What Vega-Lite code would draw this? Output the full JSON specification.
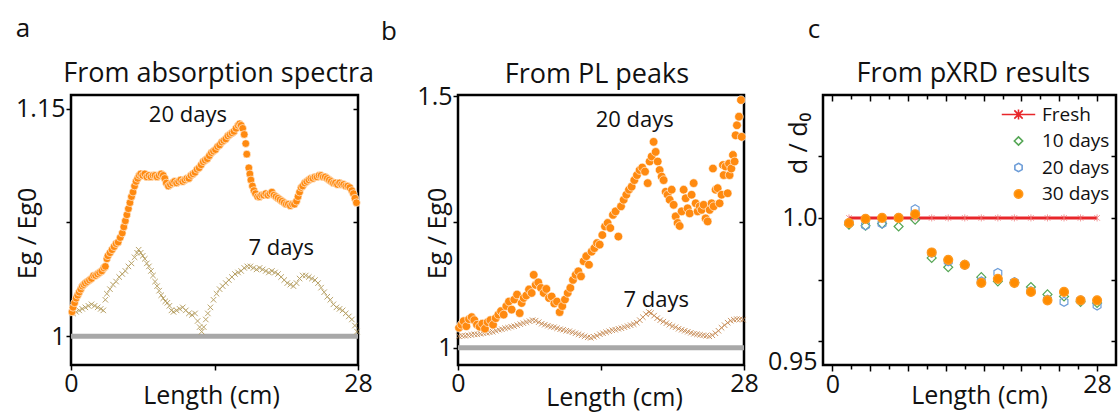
{
  "$schema": "https://vega.github.io/schema/vega-lite/v6.json",
  "padding": {"left": 13, "top": 15, "right": 5, "bottom": 0},
  "background": "white",
  "spacing": 100,
  "bounds": "flush",
  "datasets": {
    "base": [{"x": 0, "y": 1}, {"x": 28, "y": 1}],
    "letters": [
      {"panel": "a", "x": -4.68, "y": 1.2022, "t": "a"},
      {"panel": "b", "x": -6.76, "y": 1.628, "t": "b"},
      {"panel": "c", "x": -1.95, "y": 1.0761, "t": "c"}
    ],
    "heads": [
      {"panel": "a", "x": 14.4, "y": 1.1678, "t": "From absorption spectra"},
      {"panel": "b", "x": 13.6, "y": 1.5256, "t": "From PL peaks"},
      {"panel": "c", "x": 14.9, "y": 1.0551, "t": "From pXRD results"}
    ],
    "notes": [
      {"panel": "a", "x": 11.4, "y": 1.146, "t": "20 days"},
      {"panel": "a", "x": 20.5, "y": 1.058, "t": "7 days"},
      {"panel": "b", "x": 17.3, "y": 1.452, "t": "20 days"},
      {"panel": "b", "x": 19.4, "y": 1.096, "t": "7 days"}
    ],
    "a20": [
      {"x":0.1,"y":1.016},{"x":0.2,"y":1.019},{"x":0.35,"y":1.022},{"x":0.5,"y":1.025},{"x":0.65,"y":1.027},{"x":0.8,"y":1.029},{"x":0.95,"y":1.031},{"x":1.1,"y":1.033},{"x":1.25,"y":1.034},{"x":1.4,"y":1.035},{"x":1.6,"y":1.036},{"x":1.8,"y":1.037},{"x":2.0,"y":1.038},{"x":2.2,"y":1.04},{"x":2.4,"y":1.04},{"x":2.6,"y":1.041},{"x":2.8,"y":1.042},{"x":3.0,"y":1.043},{"x":3.2,"y":1.045},{"x":3.35,"y":1.046},{"x":3.5,"y":1.051},{"x":3.6,"y":1.053},{"x":3.8,"y":1.055},{"x":4.0,"y":1.057},{"x":4.2,"y":1.059},{"x":4.4,"y":1.061},{"x":4.6,"y":1.062},{"x":4.8,"y":1.065},{"x":5.0,"y":1.068},{"x":5.15,"y":1.072},{"x":5.3,"y":1.076},{"x":5.45,"y":1.08},{"x":5.6,"y":1.084},{"x":5.75,"y":1.088},{"x":5.9,"y":1.092},{"x":6.05,"y":1.095},{"x":6.2,"y":1.099},{"x":6.35,"y":1.102},{"x":6.5,"y":1.104},{"x":6.65,"y":1.106},{"x":6.8,"y":1.107},{"x":7.0,"y":1.106},{"x":7.2,"y":1.107},{"x":7.4,"y":1.105},{"x":7.6,"y":1.106},{"x":7.8,"y":1.105},{"x":8.0,"y":1.106},{"x":8.2,"y":1.106},{"x":8.4,"y":1.105},{"x":8.6,"y":1.106},{"x":8.8,"y":1.107},{"x":9.0,"y":1.106},{"x":9.15,"y":1.104},{"x":9.3,"y":1.101},{"x":9.5,"y":1.099},{"x":9.7,"y":1.1},{"x":9.9,"y":1.101},{"x":10.1,"y":1.102},{"x":10.3,"y":1.101},{"x":10.5,"y":1.102},{"x":10.7,"y":1.103},{"x":10.9,"y":1.102},{"x":11.1,"y":1.103},{"x":11.3,"y":1.104},{"x":11.5,"y":1.104},{"x":11.7,"y":1.106},{"x":11.9,"y":1.107},{"x":12.1,"y":1.108},{"x":12.3,"y":1.11},{"x":12.5,"y":1.111},{"x":12.7,"y":1.113},{"x":12.9,"y":1.115},{"x":13.1,"y":1.116},{"x":13.3,"y":1.117},{"x":13.5,"y":1.119},{"x":13.7,"y":1.121},{"x":13.9,"y":1.122},{"x":14.1,"y":1.123},{"x":14.3,"y":1.125},{"x":14.5,"y":1.126},{"x":14.7,"y":1.128},{"x":14.9,"y":1.129},{"x":15.1,"y":1.13},{"x":15.3,"y":1.132},{"x":15.5,"y":1.133},{"x":15.7,"y":1.134},{"x":15.9,"y":1.135},{"x":16.1,"y":1.137},{"x":16.3,"y":1.139},{"x":16.45,"y":1.14},{"x":16.6,"y":1.139},{"x":16.75,"y":1.137},{"x":16.9,"y":1.133},{"x":17.05,"y":1.127},{"x":17.15,"y":1.12},{"x":17.35,"y":1.111},{"x":17.45,"y":1.107},{"x":17.55,"y":1.103},{"x":17.7,"y":1.099},{"x":17.85,"y":1.096},{"x":18.0,"y":1.094},{"x":18.2,"y":1.092},{"x":18.4,"y":1.092},{"x":18.6,"y":1.093},{"x":18.8,"y":1.093},{"x":19.0,"y":1.094},{"x":19.2,"y":1.093},{"x":19.4,"y":1.094},{"x":19.6,"y":1.095},{"x":19.8,"y":1.093},{"x":20.0,"y":1.092},{"x":20.2,"y":1.091},{"x":20.4,"y":1.09},{"x":20.6,"y":1.089},{"x":20.8,"y":1.088},{"x":21.0,"y":1.087},{"x":21.2,"y":1.087},{"x":21.4,"y":1.086},{"x":21.6,"y":1.087},{"x":21.8,"y":1.087},{"x":22.0,"y":1.089},{"x":22.15,"y":1.092},{"x":22.3,"y":1.095},{"x":22.45,"y":1.098},{"x":22.6,"y":1.099},{"x":22.8,"y":1.101},{"x":23.0,"y":1.102},{"x":23.2,"y":1.103},{"x":23.4,"y":1.104},{"x":23.6,"y":1.104},{"x":23.8,"y":1.105},{"x":24.0,"y":1.105},{"x":24.2,"y":1.106},{"x":24.4,"y":1.106},{"x":24.6,"y":1.105},{"x":24.8,"y":1.105},{"x":25.0,"y":1.104},{"x":25.2,"y":1.103},{"x":25.4,"y":1.102},{"x":25.6,"y":1.101},{"x":25.8,"y":1.101},{"x":26.0,"y":1.1},{"x":26.2,"y":1.101},{"x":26.4,"y":1.1},{"x":26.6,"y":1.1},{"x":26.8,"y":1.099},{"x":27.0,"y":1.099},{"x":27.2,"y":1.098},{"x":27.4,"y":1.096},{"x":27.55,"y":1.094},{"x":27.7,"y":1.091},{"x":27.85,"y":1.088}
    ],
    "a7": [
      {"x":0.2,"y":1.015},{"x":0.5,"y":1.016},{"x":0.8,"y":1.017},{"x":1.1,"y":1.018},{"x":1.4,"y":1.019},{"x":1.7,"y":1.02},{"x":2.0,"y":1.021},{"x":2.3,"y":1.02},{"x":2.6,"y":1.019},{"x":2.9,"y":1.018},{"x":3.15,"y":1.017},{"x":3.35,"y":1.024},{"x":3.5,"y":1.028},{"x":3.8,"y":1.031},{"x":4.1,"y":1.034},{"x":4.4,"y":1.036},{"x":4.7,"y":1.039},{"x":5.0,"y":1.041},{"x":5.3,"y":1.043},{"x":5.6,"y":1.046},{"x":5.9,"y":1.048},{"x":6.2,"y":1.052},{"x":6.45,"y":1.055},{"x":6.6,"y":1.057},{"x":6.8,"y":1.055},{"x":7.0,"y":1.053},{"x":7.2,"y":1.051},{"x":7.4,"y":1.048},{"x":7.6,"y":1.046},{"x":7.8,"y":1.043},{"x":8.0,"y":1.04},{"x":8.2,"y":1.036},{"x":8.4,"y":1.033},{"x":8.6,"y":1.03},{"x":8.8,"y":1.027},{"x":9.0,"y":1.025},{"x":9.2,"y":1.023},{"x":9.4,"y":1.022},{"x":9.6,"y":1.02},{"x":9.8,"y":1.017},{"x":10.0,"y":1.016},{"x":10.3,"y":1.017},{"x":10.6,"y":1.018},{"x":10.9,"y":1.019},{"x":11.2,"y":1.017},{"x":11.5,"y":1.015},{"x":11.8,"y":1.014},{"x":12.1,"y":1.015},{"x":12.35,"y":1.01},{"x":12.55,"y":1.006},{"x":12.75,"y":1.003},{"x":12.95,"y":1.006},{"x":13.15,"y":1.011},{"x":13.35,"y":1.015},{"x":13.6,"y":1.019},{"x":13.9,"y":1.024},{"x":14.2,"y":1.028},{"x":14.5,"y":1.031},{"x":14.8,"y":1.033},{"x":15.1,"y":1.035},{"x":15.4,"y":1.037},{"x":15.7,"y":1.039},{"x":16.0,"y":1.041},{"x":16.3,"y":1.042},{"x":16.6,"y":1.043},{"x":16.9,"y":1.045},{"x":17.2,"y":1.046},{"x":17.5,"y":1.046},{"x":17.8,"y":1.045},{"x":18.1,"y":1.044},{"x":18.4,"y":1.045},{"x":18.7,"y":1.044},{"x":19.0,"y":1.043},{"x":19.3,"y":1.042},{"x":19.6,"y":1.043},{"x":19.9,"y":1.042},{"x":20.2,"y":1.041},{"x":20.5,"y":1.039},{"x":20.8,"y":1.037},{"x":21.1,"y":1.035},{"x":21.4,"y":1.034},{"x":21.7,"y":1.033},{"x":22.0,"y":1.035},{"x":22.3,"y":1.038},{"x":22.6,"y":1.04},{"x":22.9,"y":1.04},{"x":23.2,"y":1.039},{"x":23.5,"y":1.038},{"x":23.8,"y":1.037},{"x":24.1,"y":1.035},{"x":24.4,"y":1.032},{"x":24.7,"y":1.029},{"x":25.0,"y":1.026},{"x":25.3,"y":1.024},{"x":25.6,"y":1.021},{"x":25.9,"y":1.019},{"x":26.2,"y":1.018},{"x":26.5,"y":1.017},{"x":26.8,"y":1.015},{"x":27.1,"y":1.013},{"x":27.4,"y":1.011},{"x":27.7,"y":1.007},{"x":27.9,"y":1.003}
    ],
    "b20": [
      {"x":0.1,"y":1.04},{"x":0.33,"y":1.046},{"x":0.55,"y":1.053},{"x":0.82,"y":1.043},{"x":1.08,"y":1.057},{"x":1.34,"y":1.061},{"x":1.6,"y":1.055},{"x":1.86,"y":1.046},{"x":2.12,"y":1.042},{"x":2.38,"y":1.048},{"x":2.64,"y":1.038},{"x":2.9,"y":1.051},{"x":3.17,"y":1.055},{"x":3.43,"y":1.046},{"x":3.69,"y":1.059},{"x":3.95,"y":1.066},{"x":4.21,"y":1.073},{"x":4.47,"y":1.066},{"x":4.73,"y":1.083},{"x":4.99,"y":1.092},{"x":5.25,"y":1.076},{"x":5.51,"y":1.096},{"x":5.78,"y":1.106},{"x":6.04,"y":1.069},{"x":6.23,"y":1.089},{"x":6.43,"y":1.099},{"x":6.69,"y":1.104},{"x":6.95,"y":1.116},{"x":7.21,"y":1.109},{"x":7.41,"y":1.145},{"x":7.6,"y":1.125},{"x":7.86,"y":1.13},{"x":8.12,"y":1.119},{"x":8.39,"y":1.109},{"x":8.65,"y":1.117},{"x":8.91,"y":1.099},{"x":9.17,"y":1.102},{"x":9.43,"y":1.088},{"x":9.69,"y":1.092},{"x":9.95,"y":1.071},{"x":10.21,"y":1.083},{"x":10.47,"y":1.096},{"x":10.74,"y":1.109},{"x":11.0,"y":1.119},{"x":11.26,"y":1.135},{"x":11.52,"y":1.145},{"x":11.78,"y":1.152},{"x":12.04,"y":1.142},{"x":12.3,"y":1.172},{"x":12.56,"y":1.182},{"x":12.82,"y":1.165},{"x":13.08,"y":1.191},{"x":13.35,"y":1.198},{"x":13.61,"y":1.208},{"x":13.87,"y":1.205},{"x":14.13,"y":1.224},{"x":14.39,"y":1.241},{"x":14.65,"y":1.248},{"x":14.91,"y":1.238},{"x":15.17,"y":1.264},{"x":15.43,"y":1.271},{"x":15.7,"y":1.221},{"x":15.96,"y":1.281},{"x":16.22,"y":1.294},{"x":16.48,"y":1.304},{"x":16.74,"y":1.314},{"x":17.0,"y":1.32},{"x":17.26,"y":1.333},{"x":17.52,"y":1.343},{"x":17.78,"y":1.353},{"x":18.04,"y":1.358},{"x":18.31,"y":1.35},{"x":18.57,"y":1.327},{"x":18.76,"y":1.37},{"x":18.96,"y":1.38},{"x":19.15,"y":1.409},{"x":19.35,"y":1.389},{"x":19.55,"y":1.37},{"x":19.74,"y":1.353},{"x":19.94,"y":1.34},{"x":20.13,"y":1.333},{"x":20.33,"y":1.31},{"x":20.52,"y":1.304},{"x":20.72,"y":1.294},{"x":20.92,"y":1.314},{"x":21.11,"y":1.284},{"x":21.31,"y":1.261},{"x":21.5,"y":1.248},{"x":21.7,"y":1.242},{"x":21.9,"y":1.271},{"x":22.09,"y":1.314},{"x":22.29,"y":1.297},{"x":22.48,"y":1.277},{"x":22.68,"y":1.267},{"x":22.87,"y":1.304},{"x":23.07,"y":1.327},{"x":23.27,"y":1.287},{"x":23.46,"y":1.271},{"x":23.66,"y":1.281},{"x":23.85,"y":1.274},{"x":24.05,"y":1.284},{"x":24.24,"y":1.257},{"x":24.44,"y":1.251},{"x":24.64,"y":1.274},{"x":24.83,"y":1.287},{"x":24.96,"y":1.356},{"x":25.03,"y":1.281},{"x":25.22,"y":1.314},{"x":25.42,"y":1.317},{"x":25.61,"y":1.287},{"x":25.81,"y":1.304},{"x":25.94,"y":1.363},{"x":26.01,"y":1.343},{"x":26.2,"y":1.36},{"x":26.4,"y":1.307},{"x":26.53,"y":1.366},{"x":26.59,"y":1.343},{"x":26.76,"y":1.356},{"x":26.92,"y":1.383},{"x":27.08,"y":1.37},{"x":27.18,"y":1.422},{"x":27.31,"y":1.442},{"x":27.51,"y":1.459},{"x":27.7,"y":1.492},{"x":27.77,"y":1.419}
    ],
    "b7": [
      {"x":0.1,"y":1.023},{"x":0.4,"y":1.024},{"x":0.7,"y":1.024},{"x":1.0,"y":1.025},{"x":1.3,"y":1.026},{"x":1.6,"y":1.027},{"x":1.9,"y":1.027},{"x":2.2,"y":1.028},{"x":2.5,"y":1.029},{"x":2.8,"y":1.03},{"x":3.1,"y":1.031},{"x":3.4,"y":1.032},{"x":3.7,"y":1.034},{"x":4.0,"y":1.036},{"x":4.3,"y":1.037},{"x":4.6,"y":1.039},{"x":4.9,"y":1.04},{"x":5.2,"y":1.042},{"x":5.5,"y":1.043},{"x":5.8,"y":1.045},{"x":6.1,"y":1.047},{"x":6.4,"y":1.049},{"x":6.7,"y":1.051},{"x":7.0,"y":1.053},{"x":7.3,"y":1.055},{"x":7.6,"y":1.054},{"x":7.9,"y":1.051},{"x":8.2,"y":1.048},{"x":8.5,"y":1.046},{"x":8.8,"y":1.044},{"x":9.1,"y":1.042},{"x":9.4,"y":1.041},{"x":9.7,"y":1.039},{"x":10.0,"y":1.037},{"x":10.3,"y":1.036},{"x":10.6,"y":1.034},{"x":10.9,"y":1.033},{"x":11.2,"y":1.031},{"x":11.5,"y":1.029},{"x":11.8,"y":1.027},{"x":12.1,"y":1.025},{"x":12.4,"y":1.023},{"x":12.7,"y":1.021},{"x":13.0,"y":1.02},{"x":13.3,"y":1.022},{"x":13.6,"y":1.024},{"x":13.9,"y":1.027},{"x":14.2,"y":1.029},{"x":14.5,"y":1.031},{"x":14.8,"y":1.033},{"x":15.1,"y":1.035},{"x":15.4,"y":1.036},{"x":15.7,"y":1.038},{"x":16.0,"y":1.039},{"x":16.3,"y":1.041},{"x":16.6,"y":1.043},{"x":16.9,"y":1.045},{"x":17.2,"y":1.047},{"x":17.5,"y":1.05},{"x":17.8,"y":1.055},{"x":18.1,"y":1.061},{"x":18.4,"y":1.067},{"x":18.7,"y":1.071},{"x":18.9,"y":1.069},{"x":19.2,"y":1.064},{"x":19.5,"y":1.059},{"x":19.8,"y":1.055},{"x":20.1,"y":1.052},{"x":20.4,"y":1.049},{"x":20.7,"y":1.046},{"x":21.0,"y":1.043},{"x":21.3,"y":1.041},{"x":21.6,"y":1.038},{"x":21.9,"y":1.036},{"x":22.2,"y":1.034},{"x":22.5,"y":1.032},{"x":22.8,"y":1.03},{"x":23.1,"y":1.028},{"x":23.4,"y":1.027},{"x":23.7,"y":1.026},{"x":24.0,"y":1.025},{"x":24.3,"y":1.024},{"x":24.6,"y":1.023},{"x":24.9,"y":1.025},{"x":25.2,"y":1.029},{"x":25.5,"y":1.034},{"x":25.8,"y":1.04},{"x":26.1,"y":1.045},{"x":26.4,"y":1.05},{"x":26.7,"y":1.054},{"x":27.0,"y":1.056},{"x":27.3,"y":1.057},{"x":27.6,"y":1.057},{"x":27.9,"y":1.056}
    ],
    "fresh": [
      {"x":1.75,"y":1.0},{"x":3.5,"y":1.0},{"x":5.25,"y":1.0},{"x":7.0,"y":1.0},{"x":8.75,"y":1.0},{"x":10.5,"y":1.0},{"x":12.25,"y":1.0},{"x":14.0,"y":1.0},{"x":15.75,"y":1.0},{"x":17.5,"y":1.0},{"x":19.25,"y":1.0},{"x":21.0,"y":1.0},{"x":22.75,"y":1.0},{"x":24.5,"y":1.0},{"x":26.25,"y":1.0},{"x":28.0,"y":1.0}
    ],
    "aged": [
      {"series":"10 days","x":1.75,"y":0.9973},{"series":"10 days","x":3.5,"y":0.9968},{"series":"10 days","x":5.25,"y":0.9977},{"series":"10 days","x":7.0,"y":0.9965},{"series":"10 days","x":8.75,"y":0.9993},{"series":"10 days","x":10.5,"y":0.9838},{"series":"10 days","x":12.25,"y":0.98},{"series":"10 days","x":14.0,"y":0.981},{"series":"10 days","x":15.75,"y":0.976},{"series":"10 days","x":17.5,"y":0.9743},{"series":"10 days","x":19.25,"y":0.9737},{"series":"10 days","x":21.0,"y":0.972},{"series":"10 days","x":22.75,"y":0.969},{"series":"10 days","x":24.5,"y":0.9682},{"series":"10 days","x":26.25,"y":0.966},{"series":"10 days","x":28.0,"y":0.9655},
      {"series":"20 days","x":1.75,"y":0.998},{"series":"20 days","x":3.5,"y":0.997},{"series":"20 days","x":5.25,"y":0.9977},{"series":"20 days","x":7.0,"y":1.0},{"series":"20 days","x":8.75,"y":1.0035},{"series":"20 days","x":10.5,"y":0.9858},{"series":"20 days","x":12.25,"y":0.9824},{"series":"20 days","x":14.0,"y":0.981},{"series":"20 days","x":15.75,"y":0.9743},{"series":"20 days","x":17.5,"y":0.9777},{"series":"20 days","x":19.25,"y":0.974},{"series":"20 days","x":21.0,"y":0.9703},{"series":"20 days","x":22.75,"y":0.9669},{"series":"20 days","x":24.5,"y":0.966},{"series":"20 days","x":26.25,"y":0.9666},{"series":"20 days","x":28.0,"y":0.9645},
      {"series":"30 days","x":1.75,"y":0.9979},{"series":"30 days","x":3.5,"y":0.9996},{"series":"30 days","x":5.25,"y":1.0},{"series":"30 days","x":7.0,"y":1.0},{"series":"30 days","x":8.75,"y":1.0015},{"series":"30 days","x":10.5,"y":0.986},{"series":"30 days","x":12.25,"y":0.983},{"series":"30 days","x":14.0,"y":0.981},{"series":"30 days","x":15.75,"y":0.9737},{"series":"30 days","x":17.5,"y":0.9753},{"series":"30 days","x":19.25,"y":0.9737},{"series":"30 days","x":21.0,"y":0.97},{"series":"30 days","x":22.75,"y":0.9666},{"series":"30 days","x":24.5,"y":0.97},{"series":"30 days","x":26.25,"y":0.9666},{"series":"30 days","x":28.0,"y":0.9666}
    ]
  },
  "hconcat": [
    {
      "width": 287, "height": 270,
      "resolve": {"axis": {"x": "independent", "y": "independent"}},
      "layer": [
        {
          "data": {"name": "base"},
          "mark": {"type": "line", "color": "#a8a8a8", "strokeWidth": 5},
          "encoding": {
            "x": {"field": "x", "type": "quantitative", "scale": {"domain": [0, 28], "nice": false, "zero": false},
                  "axis": {"values": [0, 14, 28], "labelExpr": "datum.value == 14 ? '' : datum.label", "title": "Length (cm)", "titleX": 140, "titleY": 18, "titleBaseline": "top"}},
            "y": {"field": "y", "type": "quantitative", "scale": {"domain": [0.981, 1.159], "nice": false, "zero": false},
                  "axis": {"values": [1, 1.075, 1.15], "labelExpr": "datum.value == 1 ? '1' : (datum.value > 1.14 ? '1.15' : '')", "title": "Eg / Eg0", "titleX": -31, "titleY": 138}}
          }
        },
        {
          "data": {"name": "a7"},
          "mark": {"type": "point", "shape": "M-1,-1L1,1M-1,1L1,-1", "size": 30, "filled": false, "stroke": "#b39b5b", "strokeWidth": 1, "opacity": 0.9},
          "encoding": {
            "x": {"field": "x", "type": "quantitative", "axis": null},
            "y": {"field": "y", "type": "quantitative", "axis": {"orient": "right", "labels": false, "title": null, "values": [1, 1.075, 1.15], "tickSize": -5}}
          }
        },
        {
          "data": {"name": "a20"},
          "mark": {"type": "point", "shape": "circle", "size": 60, "filled": true, "fill": "#ff8a10", "stroke": "#ffffff", "strokeWidth": 0.6, "opacity": 1},
          "encoding": {
            "x": {"field": "x", "type": "quantitative", "axis": null},
            "y": {"field": "y", "type": "quantitative", "axis": null}
          }
        },
        {
          "data": {"name": "notes"},
          "transform": [{"filter": "datum.panel == 'a'"}],
          "mark": {"type": "text", "fontSize": 22, "color": "#111"},
          "encoding": {
            "x": {"field": "x", "type": "quantitative", "axis": null},
            "y": {"field": "y", "type": "quantitative", "axis": null},
            "text": {"field": "t"}
          }
        },
        {
          "data": {"name": "heads"},
          "transform": [{"filter": "datum.panel == 'a'"}],
          "mark": {"type": "text", "fontSize": 27, "baseline": "alphabetic", "color": "#111"},
          "encoding": {
            "x": {"field": "x", "type": "quantitative", "axis": null},
            "y": {"field": "y", "type": "quantitative", "axis": null},
            "text": {"field": "t"}
          }
        },
        {
          "data": {"name": "letters"},
          "transform": [{"filter": "datum.panel == 'a'"}],
          "mark": {"type": "text", "fontSize": 26, "color": "#111"},
          "encoding": {
            "x": {"field": "x", "type": "quantitative", "axis": null},
            "y": {"field": "y", "type": "quantitative", "axis": null},
            "text": {"field": "t"}
          }
        }
      ]
    },
    {
      "spacing": 79,
      "bounds": "flush",
      "hconcat": [
        {
          "width": 286, "height": 270,
          "resolve": {"axis": {"x": "independent", "y": "independent"}},
          "layer": [
            {
              "data": {"name": "base"},
              "mark": {"type": "line", "color": "#a8a8a8", "strokeWidth": 5},
              "encoding": {
                "x": {"field": "x", "type": "quantitative", "scale": {"domain": [0, 28], "nice": false, "zero": false},
                      "axis": {"values": [0, 14, 28], "labelExpr": "datum.value == 14 ? '' : datum.label", "title": "Length (cm)", "titleX": 156, "titleY": 20, "titleBaseline": "top"}},
                "y": {"field": "y", "type": "quantitative", "scale": {"domain": [0.966, 1.502], "nice": false, "zero": false},
                      "axis": {"values": [1, 1.25, 1.5], "labelExpr": "datum.value == 1 ? '1' : (datum.value > 1.4 ? '1.5' : '')", "title": "Eg / Eg0", "titleX": -8, "titleY": 138}}
              }
            },
            {
              "data": {"name": "b7"},
              "mark": {"type": "point", "shape": "M-1,-1L1,1M-1,1L1,-1", "size": 30, "filled": false, "stroke": "#c4844a", "strokeWidth": 1, "opacity": 0.85},
              "encoding": {
                "x": {"field": "x", "type": "quantitative", "axis": null},
                "y": {"field": "y", "type": "quantitative", "axis": {"orient": "right", "labels": false, "title": null, "values": [1, 1.25, 1.5], "tickSize": -5}}
              }
            },
            {
              "data": {"name": "b20"},
              "mark": {"type": "point", "shape": "circle", "size": 75, "filled": true, "fill": "#ff8a10", "stroke": "#ffffff", "strokeWidth": 0.6, "opacity": 1},
              "encoding": {
                "x": {"field": "x", "type": "quantitative", "axis": null},
                "y": {"field": "y", "type": "quantitative", "axis": null}
              }
            },
            {
              "data": {"name": "notes"},
              "transform": [{"filter": "datum.panel == 'b'"}],
              "mark": {"type": "text", "fontSize": 22, "color": "#111"},
              "encoding": {
                "x": {"field": "x", "type": "quantitative", "axis": null},
                "y": {"field": "y", "type": "quantitative", "axis": null},
                "text": {"field": "t"}
              }
            },
            {
              "data": {"name": "heads"},
              "transform": [{"filter": "datum.panel == 'b'"}],
              "mark": {"type": "text", "fontSize": 27, "baseline": "alphabetic", "color": "#111"},
              "encoding": {
                "x": {"field": "x", "type": "quantitative", "axis": null},
                "y": {"field": "y", "type": "quantitative", "axis": null},
                "text": {"field": "t"}
              }
            },
            {
              "data": {"name": "letters"},
              "transform": [{"filter": "datum.panel == 'b'"}],
              "mark": {"type": "text", "fontSize": 26, "color": "#111"},
              "encoding": {
                "x": {"field": "x", "type": "quantitative", "axis": null},
                "y": {"field": "y", "type": "quantitative", "axis": null},
                "text": {"field": "t"}
              }
            }
          ]
        },
        {
          "width": 293, "height": 270,
          "resolve": {"axis": {"x": "independent", "y": "independent"}},
          "layer": [
            {
              "data": {"name": "fresh"},
              "mark": {"type": "line", "color": "#e8262a", "strokeWidth": 3},
              "encoding": {
                "x": {"field": "x", "type": "quantitative", "scale": {"domain": [-1, 30], "nice": false, "zero": false},
                      "axis": {"values": [0,2,4,6,8,10,12,14,16,18,20,22,24,26,28], "labelExpr": "datum.value == 0 || datum.value == 28 ? datum.label : ''", "tickSize": {"condition": {"test": "datum.value % 4 == 0", "value": 6}, "value": 4}, "title": "Length (cm)", "titleX": 156, "titleY": 18, "titleBaseline": "top"}},
                "y": {"field": "y", "type": "quantitative", "scale": {"domain": [0.9404, 1.0498], "nice": false, "zero": false},
                      "axis": {"values": [0.95, 0.975, 1.0, 1.025], "labelExpr": "datum.value == 1 ? '1.0' : (datum.value < 0.96 ? '0.95' : '')", "labelOffset": {"condition": {"test": "datum.value < 0.96", "value": 20}, "value": 0}, "title": "d / d₀", "titleX": -12, "titleY": 48}}
              }
            },
            {
              "data": {"name": "fresh"},
              "mark": {"type": "point", "shape": "M-0.8,-0.8L0.8,0.8M-0.8,0.8L0.8,-0.8M0,-1V1", "size": 50, "filled": false, "stroke": "#f07070", "strokeWidth": 1},
              "encoding": {
                "x": {"field": "x", "type": "quantitative", "axis": {"orient": "top", "labels": false, "title": null, "values": [0,2,4,6,8,10,12,14,16,18,20,22,24,26,28], "tickSize": {"condition": {"test": "datum.value % 4 == 0", "value": -6}, "value": -4}}},
                "y": {"field": "y", "type": "quantitative", "axis": {"orient": "right", "labels": false, "title": null, "values": [0.95, 0.975, 1.0, 1.025], "tickSize": -5}}
              }
            },
            {
              "data": {"name": "aged"},
              "mark": {"type": "point", "size": 80, "strokeWidth": 1.2, "opacity": 1},
              "encoding": {
                "x": {"field": "x", "type": "quantitative", "axis": null},
                "y": {"field": "y", "type": "quantitative", "axis": null},
                "stroke": {"field": "series", "type": "nominal",
                  "scale": {"domain": ["Fresh", "10 days", "20 days", "30 days"], "range": ["#e8262a", "#55a655", "#6d9dd8", "#ff9a20"]},
                  "legend": {"title": null, "orient": "none", "legendX": 938, "legendY": 10}},
                "fill": {"field": "series", "type": "nominal",
                  "scale": {"domain": ["Fresh", "10 days", "20 days", "30 days"], "range": ["transparent", "transparent", "transparent", "#ff8c00"]},
                  "legend": {"title": null, "orient": "none", "legendX": 938, "legendY": 10}},
                "shape": {"field": "series", "type": "nominal",
                  "scale": {"domain": ["Fresh", "10 days", "20 days", "30 days"], "range": ["M-4,0H4M-1,-1L1,1M-1,1L1,-1M0,-1.2V1.2", "diamond", "M0,-1L0.87,-0.5L0.87,0.5L0,1L-0.87,0.5L-0.87,-0.5Z", "circle"]},
                  "legend": {"title": null, "orient": "none", "legendX": 938, "legendY": 10}}
              }
            },
            {
              "data": {"name": "heads"},
              "transform": [{"filter": "datum.panel == 'c'"}],
              "mark": {"type": "text", "fontSize": 27, "baseline": "alphabetic", "color": "#111"},
              "encoding": {
                "x": {"field": "x", "type": "quantitative", "axis": null},
                "y": {"field": "y", "type": "quantitative", "axis": null},
                "text": {"field": "t"}
              }
            },
            {
              "data": {"name": "letters"},
              "transform": [{"filter": "datum.panel == 'c'"}],
              "mark": {"type": "text", "fontSize": 26, "color": "#111"},
              "encoding": {
                "x": {"field": "x", "type": "quantitative", "axis": null},
                "y": {"field": "y", "type": "quantitative", "axis": null},
                "text": {"field": "t"}
              }
            }
          ]
        }
      ]
    }
  ],
  "config": {
    "font": "Open Sans",
    "view": {"stroke": "#000000", "strokeWidth": 2.5},
    "axis": {"domain": false, "grid": false, "labelFlush": false, "labelOverlap": false, "labelFont": "Open Sans", "labelFontSize": 25, "labelColor": "#111111", "labelPadding": 1, "titleFont": "Open Sans", "titleFontSize": 25, "titleFontWeight": "normal", "titleColor": "#111111", "tickColor": "#000000", "tickWidth": 1.5, "tickSize": 5},
    "legend": {"labelFont": "Open Sans", "labelFontSize": 19, "labelColor": "#111111", "symbolSize": 70, "symbolStrokeWidth": 1.6, "labelOffset": 14, "rowPadding": 6.5, "padding": 0}
  }
}
